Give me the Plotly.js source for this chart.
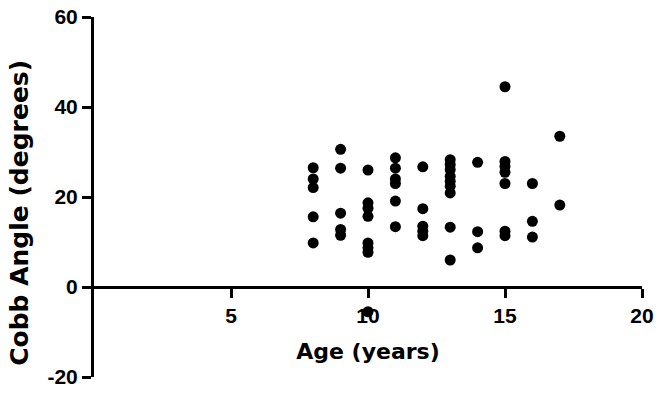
<!DOCTYPE html>
<html>
<head>
<meta charset="utf-8">
<script src="https://cdn.plot.ly/plotly-3.0.1.min.js"></script>
<style>html,body{margin:0;padding:0;background:#fff;}#chart{width:661px;height:394px;}</style>
</head>
<body>
<div id="chart"></div>
<script>
// Age (years) of each subject
const ages = [
  8, 8, 8, 8, 8,
  9, 9, 9, 9, 9,
  10, 10, 10, 10, 10, 10, 10, 10,
  11, 11, 11, 11, 11, 11,
  12, 12, 12, 12, 12,
  13, 13, 13, 13, 13, 13, 13, 13, 13,
  14, 14, 14,
  15, 15, 15, 15, 15, 15, 15,
  16, 16, 16,
  17, 17
];
// Cobb angle (degrees) for each subject
const cobbAngles = [
  26.5, 24.0, 22.1, 15.6, 9.8,
  30.6, 26.4, 16.4, 12.8, 11.5,
  26.0, 18.7, 17.5, 15.7, 9.8, 8.7, 7.7, -5.5,
  28.7, 26.4, 24.0, 23.0, 19.1, 13.4,
  26.7, 17.4, 13.5, 12.4, 11.4,
  28.3, 27.2, 26.1, 24.6, 23.5, 22.4, 20.9, 13.3, 6.0,
  27.7, 12.3, 8.7,
  44.5, 27.9, 26.8, 25.5, 23.0, 12.4, 11.4,
  23.0, 14.6, 11.1,
  33.5, 18.2
];
const xTicks = [5, 10, 15, 20];
const yTicks = [-20, 0, 20, 40, 60];
const xTitle = 'Age (years)';
const yTitle = 'Cobb Angle (degrees)';

const titleFam = '"DejaVu Sans", "Liberation Sans", Arial, sans-serif';
const tickFam = '"Liberation Sans", Arial, sans-serif';
const tickFont = {family: tickFam, size: 21, color: '#000', weight: 'bold'};

Plotly.newPlot('chart', [{
  x: ages,
  y: cobbAngles,
  type: 'scatter',
  mode: 'markers',
  marker: {color: '#000', size: 11},
  cliponaxis: false,
  hoverinfo: 'x+y'
}], {
  width: 661, height: 394,
  margin: {l: 94, r: 19, t: 17, b: 17},
  paper_bgcolor: '#fff', plot_bgcolor: '#fff',
  showlegend: false,
  xaxis: {
    range: [0, 20], tickvals: xTicks, ticktext: xTicks.map(String),
    anchor: 'free', position: 0.25,
    showline: true, linecolor: '#000', linewidth: 3,
    ticks: 'outside', ticklen: 9, tickwidth: 3, tickcolor: '#000',
    showgrid: false, zeroline: false, tickfont: tickFont,
    title: {text: xTitle, font: {family: titleFam, size: 22, color: '#000', weight: 'bold'}, standoff: 17}
  },
  yaxis: {
    range: [-20, 60], tickvals: yTicks, ticktext: yTicks.map(String),
    showline: true, linecolor: '#000', linewidth: 3,
    ticks: 'outside', ticklen: 9, tickwidth: 3, tickcolor: '#000',
    showgrid: false, zeroline: false, tickfont: tickFont,
    title: {text: ''}
  },
  annotations: [{
    text: yTitle, textangle: -90, showarrow: false,
    xref: 'paper', yref: 'paper', x: -0.135, y: 0.456,
    xanchor: 'center', yanchor: 'middle',
    font: {family: titleFam, size: 25, color: '#000', weight: 'bold'}
  }]
}, {displayModeBar: false, staticPlot: true});
</script>
</body>
</html>
